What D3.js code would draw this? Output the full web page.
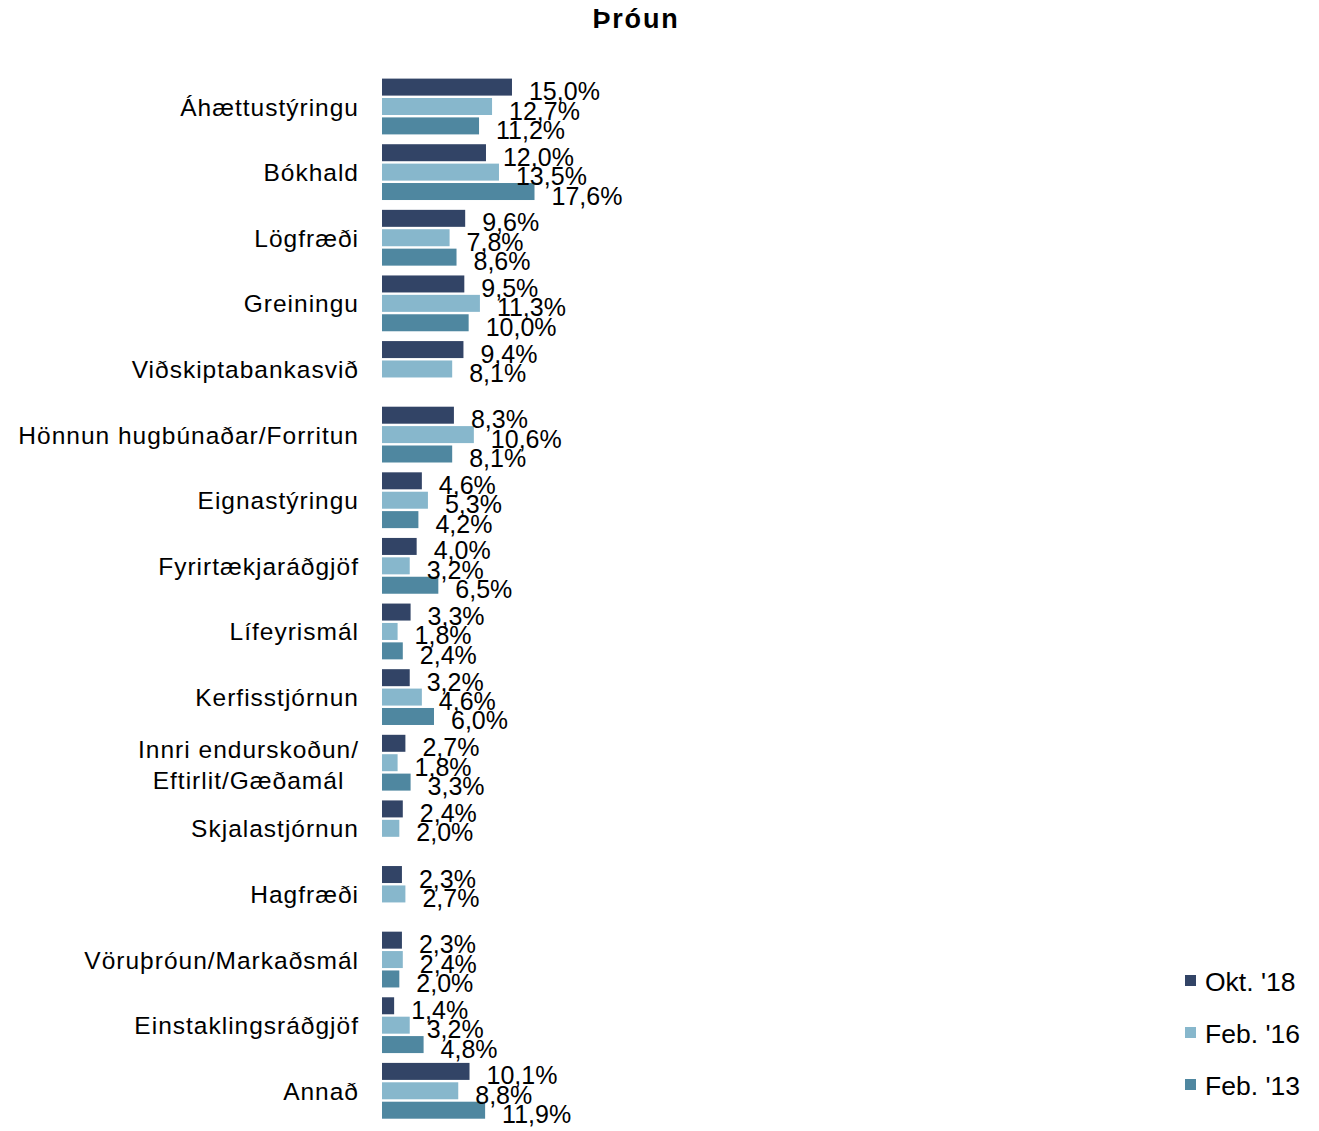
<!DOCTYPE html>
<html>
<head>
<meta charset="utf-8">
<script src="https://cdn.jsdelivr.net/npm/d3@7"></script>
<style>
  body { margin: 0; background: #fff; }
  text { font-family: Arial, "Liberation Sans", sans-serif; fill: #000; }
</style>
</head>
<body>
<div id="chart"></div>
<script>
// categories, top to bottom
const categories = [
  "Áhættustýringu", "Bókhald", "Lögfræði", "Greiningu", "Viðskiptabankasvið",
  "Hönnun hugbúnaðar/Forritun", "Eignastýringu", "Fyrirtækjaráðgjöf", "Lífeyrismál",
  "Kerfisstjórnun", "Innri endurskoðun/Eftirlit/Gæðamál", "Skjalastjórnun", "Hagfræði",
  "Vöruþróun/Markaðsmál", "Einstaklingsráðgjöf", "Annað"
];
const seriesNames = ["Okt. '18", "Feb. '16", "Feb. '13"];
const colors = ["#324466", "#87b7cc", "#4f87a0"];

// values in % (null = no value)
const okt18 = [15.0, 12.0, 9.6, 9.5, 9.4, 8.3, 4.6, 4.0, 3.3, 3.2, 2.7, 2.4, 2.3, 2.3, 1.4, 10.1];
const feb16 = [12.7, 13.5, 7.8, 11.3, 8.1, 10.6, 5.3, 3.2, 1.8, 4.6, 1.8, 2.0, 2.7, 2.4, 3.2, 8.8];
const feb13 = [11.2, 17.6, 8.6, 10.0, null, 8.1, 4.2, 6.5, 2.4, 6.0, 3.3, null, null, 2.0, 4.8, 11.9];
const seriesValues = [okt18, feb16, feb13];

// label lines for categories that wrap
const labelLines = {
  "Innri endurskoðun/Eftirlit/Gæðamál": ["Innri endurskoðun/", "Eftirlit/Gæðamál"]
};

const width = 1319, height = 1131;
const svg = d3.select("#chart").append("svg")
  .attr("width", width)
  .attr("height", height);

const x = d3.scaleLinear().domain([0, 20]).range([382, 382 + 173.3]);

const y = d3.scaleBand()
  .domain(categories)
  .range([73.7, 73.7 + 16 * 65.62])
  .padding(0);

const ySub = d3.scaleBand()
  .domain(d3.range(3))
  .range([4.9, 4.9 + 55.8])
  .paddingInner(0.124);

const fmt = v => d3.format(".1f")(v).replace(".", ",") + "%";

// title
svg.append("text")
  .attr("x", 636)
  .attr("y", 28)
  .attr("text-anchor", "middle")
  .style("font-size", "27px")
  .style("letter-spacing", "1.8px")
  .style("font-weight", "bold")
  .text("Þróun");

// bars + value labels
const rows = [];
categories.forEach((c, i) => {
  seriesValues.forEach((vals, s) => {
    if (vals[i] != null) rows.push({ cat: c, s: s, v: vals[i] });
  });
});

svg.selectAll(".bar")
  .data(rows)
  .enter()
  .append("rect")
  .attr("class", "bar")
  .attr("x", x(0))
  .attr("y", d => y(d.cat) + ySub(d.s))
  .attr("width", d => x(d.v) - x(0))
  .attr("height", ySub.bandwidth())
  .style("fill", d => colors[d.s]);

svg.selectAll(".val")
  .data(rows)
  .enter()
  .append("text")
  .attr("class", "val")
  .attr("x", d => x(d.v) + 17)
  .attr("y", d => y(d.cat) + ySub(d.s) + ySub.bandwidth() / 2 + 13)
  .style("font-size", "25px")
  .text(d => fmt(d.v));

// category labels
const labelRight = 359;
const catStyle = sel => sel
  .style("font-size", "24.5px")
  .style("letter-spacing", "1px");

categories.forEach(c => {
  const cy = y(c) + y.bandwidth() / 2;
  const lines = labelLines[c];
  if (!lines) {
    svg.append("text")
      .attr("x", labelRight)
      .attr("y", cy + 9)
      .attr("text-anchor", "end")
      .call(catStyle)
      .text(c);
  } else {
    // centred block, right edge at labelRight
    const first = svg.append("text")
      .attr("x", labelRight)
      .attr("y", cy - 5)
      .attr("text-anchor", "end")
      .call(catStyle)
      .text(lines[0]);
    const w = first.node().getComputedTextLength();
    first.attr("text-anchor", "middle").attr("x", labelRight - w / 2);
    svg.append("text")
      .attr("x", labelRight - w / 2)
      .attr("y", cy + 26)
      .attr("text-anchor", "middle")
      .call(catStyle)
      .text(lines[1]);
  }
});

// legend
const legend = svg.selectAll(".legend")
  .data(seriesNames)
  .enter()
  .append("g")
  .attr("class", "legend")
  .attr("transform", (d, i) => `translate(1185, ${975 + i * 52})`);

legend.append("rect")
  .attr("width", 11)
  .attr("height", 11)
  .style("fill", (d, i) => colors[i]);

legend.append("text")
  .attr("x", 20)
  .attr("y", 16)
  .style("font-size", "26.5px")
  .text(d => d);
</script>
</body>
</html>
